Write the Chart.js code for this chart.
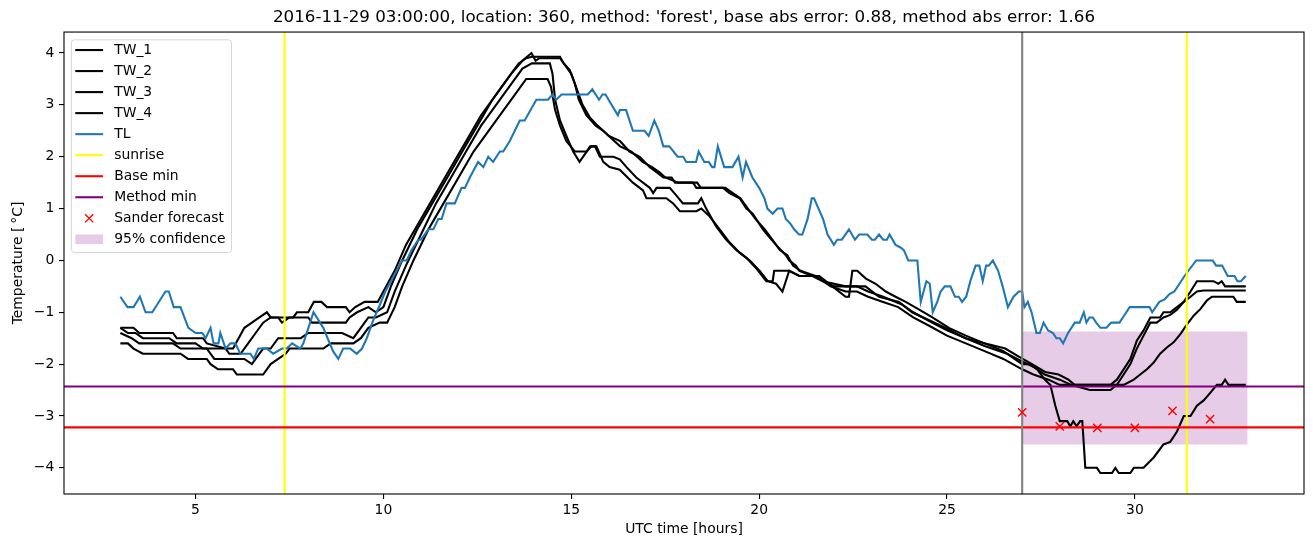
<!DOCTYPE html>
<html>
<head>
<meta charset="utf-8">
<script src="https://cdn.jsdelivr.net/npm/chart.js@4.4.0/dist/chart.umd.min.js"></script>
<style>
html, body { margin: 0; padding: 0; background: #fff; }
</style>
</head>
<body>
<canvas id="chart" width="1313" height="547"></canvas>
<script>
// Axis limits and ticks (hours, degrees C)
const hourMin = 1.5, hourMax = 34.5;
const tempMin = -4.505, tempMax = 4.405;
const xTicks = [5, 10, 15, 20, 25, 30];
const yTicks = [-4, -3, -2, -1, 0, 1, 2, 3, 4];

const titleText = "2016-11-29 03:00:00, location: 360, method: 'forest', base abs error: 0.88, method abs error: 1.66";

// Road sensor temperatures as [hour, temp] pairs
const tw1 = [[3.0,-1.3],[3.35,-1.3],[3.5,-1.4],[4.4,-1.4],[4.5,-1.5],[5.2,-1.5],[5.3,-1.6],[5.8,-1.7],[6.0,-1.7],[6.3,-1.3],
  [6.5,-1.2],[6.7,-1.1],[6.9,-1.0],[7.0,-1.1],[7.6,-1.1],[7.7,-1.0],[8.0,-1.0],[8.15,-0.8],[8.35,-0.8],[8.5,-0.9],
  [9.0,-0.9],[9.1,-1.0],[9.25,-0.9],[9.5,-0.8],[9.85,-0.8],[10.0,-0.6],[10.3,-0.2],[10.6,0.3],[11.0,0.8],[11.4,1.3],
  [11.8,1.8],[12.2,2.3],[12.6,2.8],[13.0,3.2],[13.4,3.6],[13.7,3.85],[13.94,4.0],[14.05,3.85],[14.15,3.9],[14.7,3.9],
  [14.8,3.8],[14.96,3.67],[15.1,3.4],[15.2,3.1],[15.4,2.8],[15.65,2.6],[15.85,2.5],[16.0,2.4],[16.3,2.3],[16.55,2.1],
  [16.82,2.0],[17.09,1.8],[17.27,1.7],[17.45,1.6],[17.67,1.6],[17.76,1.5],[18.24,1.5],[18.33,1.4],[19.04,1.4],[19.21,1.3],
  [19.48,1.2],[19.66,1.0],[19.83,0.9],[20.1,0.6],[20.27,0.45],[20.45,0.3],[20.71,0.1],[20.8,0.0],[20.98,-0.1],[21.07,-0.2],
  [21.42,-0.3],[21.69,-0.4],[22.3,-0.5],[22.83,-0.5],[23.19,-0.7],[23.72,-0.8],[24.07,-1.0],[24.51,-1.15],[24.96,-1.3],[25.49,-1.5],
  [26.02,-1.6],[26.55,-1.7],[26.9,-1.85],[27.26,-2.0],[27.61,-2.15],[27.97,-2.2],[28.23,-2.3],[28.4,-2.4],[29.35,-2.4],[29.52,-2.3],
  [29.7,-2.1],[29.88,-1.9],[30.05,-1.55],[30.23,-1.35],[30.41,-1.1],[30.67,-1.1],[30.76,-1.0],[30.94,-1.0],[31.12,-0.9],[31.3,-0.8],
  [31.48,-0.6],[31.65,-0.4],[32.09,-0.4],[32.22,-0.45],[32.31,-0.4],[32.4,-0.5],[32.95,-0.5]];

const tw2 = [[3.0,-1.3],[3.2,-1.4],[3.4,-1.4],[3.6,-1.5],[4.3,-1.5],[4.5,-1.6],[5.0,-1.6],[5.2,-1.7],[5.8,-1.7],[5.9,-1.8],
  [6.2,-1.8],[6.4,-1.6],[6.6,-1.4],[6.8,-1.2],[7.0,-1.1],[7.2,-1.1],[7.3,-1.2],[7.5,-1.1],[8.0,-1.1],[8.1,-1.2],
  [9.0,-1.2],[9.1,-1.1],[9.3,-1.0],[9.6,-0.9],[9.8,-1.0],[10.0,-0.9],[10.2,-0.5],[10.5,0.0],[10.9,0.6],[11.3,1.1],
  [11.7,1.6],[12.1,2.1],[12.5,2.6],[12.9,3.1],[13.3,3.5],[13.6,3.8],[13.8,3.9],[13.95,3.93],[14.7,3.93],[14.8,3.8],
  [15.0,3.6],[15.15,3.3],[15.3,3.0],[15.5,2.75],[15.7,2.6],[16.0,2.4],[16.3,2.2],[16.6,2.1],[16.9,1.9],[17.15,1.8],
  [17.35,1.7],[17.5,1.6],[17.85,1.5],[18.35,1.5],[18.45,1.4],[19.1,1.4],[19.3,1.3],[19.5,1.2],[19.7,1.0],[19.9,0.8],
  [20.15,0.6],[20.35,0.4],[20.55,0.2],[20.75,0.1],[20.9,-0.1],[21.1,-0.2],[21.5,-0.3],[21.7,-0.4],[22.0,-0.5],[22.6,-0.5],
  [22.9,-0.6],[23.3,-0.7],[23.8,-0.85],[24.1,-1.0],[24.6,-1.2],[25.0,-1.35],[25.5,-1.5],[26.0,-1.65],[26.6,-1.8],[27.0,-1.95],
  [27.3,-2.05],[27.6,-2.2],[28.0,-2.3],[28.3,-2.4],[28.8,-2.5],[29.35,-2.5],[29.52,-2.4],[29.7,-2.2],[29.88,-2.0],[30.05,-1.7],
  [30.23,-1.45],[30.41,-1.2],[30.58,-1.2],[30.76,-1.1],[30.94,-1.05],[31.12,-0.95],[31.3,-0.8],[31.48,-0.7],[31.65,-0.6],[31.83,-0.58],
  [32.95,-0.58]];

const tw3 = [[3.0,-1.4],[3.3,-1.5],[3.5,-1.6],[4.4,-1.6],[4.6,-1.7],[5.3,-1.7],[5.4,-1.8],[5.5,-1.9],[6.3,-1.9],[6.5,-2.0],
  [6.6,-1.9],[6.8,-1.7],[7.0,-1.7],[7.2,-1.5],[7.8,-1.5],[8.0,-1.4],[8.9,-1.4],[9.2,-1.5],[9.4,-1.3],[9.6,-1.1],
  [9.8,-1.1],[10.1,-1.0],[10.3,-0.6],[10.6,-0.1],[11.0,0.5],[11.4,1.1],[11.8,1.6],[12.2,2.1],[12.6,2.6],[13.0,3.0],
  [13.4,3.4],[13.7,3.7],[13.95,3.8],[14.43,3.8],[14.5,3.6],[14.57,3.1],[14.7,2.7],[14.87,2.4],[15.05,2.1],[15.22,1.9],
  [15.41,2.1],[15.5,2.2],[15.63,2.2],[15.76,2.0],[16.12,2.0],[16.29,1.95],[16.47,1.8],[16.73,1.6],[17.09,1.4],[17.18,1.3],
  [17.27,1.4],[17.62,1.4],[17.8,1.25],[17.97,1.1],[18.37,1.1],[18.46,1.2],[18.59,1.0],[18.86,0.65],[19.12,0.4],[19.39,0.2],
  [19.66,0.05],[19.92,-0.15],[20.19,-0.4],[20.36,-0.4],[20.4,-0.2],[20.8,-0.2],[21.07,-0.3],[21.6,-0.3],[21.95,-0.5],[22.3,-0.7],
  [22.39,-0.7],[22.48,-0.2],[22.61,-0.2],[22.84,-0.35],[23.1,-0.45],[23.37,-0.6],[23.63,-0.7],[23.9,-0.8],[24.26,-0.95],[24.61,-1.1],
  [25.05,-1.3],[25.5,-1.45],[26.0,-1.6],[26.5,-1.75],[27.0,-2.0],[27.2,-2.0],[27.4,-2.1],[27.6,-2.3],[27.75,-2.4],[27.88,-2.8],
  [28.0,-3.1],[28.2,-3.1],[28.28,-3.2],[28.36,-3.1],[28.45,-3.2],[28.54,-3.1],[28.6,-3.1],[28.68,-4.0],[28.99,-4.0],[29.08,-4.1],
  [29.39,-4.1],[29.48,-4.0],[29.57,-4.1],[29.88,-4.1],[29.97,-4.0],[30.23,-4.0],[30.5,-3.8],[30.76,-3.55],[30.94,-3.5],[31.12,-3.3],
  [31.3,-3.0],[31.48,-3.0],[31.65,-2.8],[31.83,-2.7],[32.01,-2.55],[32.18,-2.4],[32.31,-2.4],[32.4,-2.3],[32.49,-2.4],[32.95,-2.4]];

const tw4 = [[3.0,-1.6],[3.2,-1.6],[3.35,-1.7],[3.6,-1.8],[4.6,-1.8],[4.8,-1.9],[5.3,-1.9],[5.4,-2.0],[5.6,-2.1],[6.0,-2.1],
  [6.1,-2.2],[6.8,-2.2],[7.0,-2.0],[7.2,-1.9],[7.4,-1.8],[7.5,-1.7],[8.4,-1.7],[8.6,-1.6],[9.2,-1.6],[9.4,-1.5],
  [9.6,-1.3],[9.9,-1.2],[10.1,-1.2],[10.3,-0.9],[10.5,-0.5],[10.8,0.0],[11.2,0.6],[11.6,1.1],[12.0,1.6],[12.4,2.1],
  [12.8,2.5],[13.2,2.9],[13.5,3.2],[13.8,3.5],[14.37,3.5],[14.46,3.35],[14.57,2.9],[14.7,2.6],[14.87,2.3],[15.1,2.1],
  [15.41,2.1],[15.54,2.2],[15.67,2.2],[15.85,1.9],[16.02,1.8],[16.29,1.75],[16.64,1.5],[16.91,1.35],[17.0,1.2],[17.53,1.2],
  [17.71,1.1],[17.89,0.95],[18.33,0.95],[18.46,1.0],[18.68,0.85],[18.95,0.6],[19.21,0.35],[19.48,0.15],[19.75,0.0],[20.01,-0.2],
  [20.23,-0.4],[20.45,-0.45],[20.62,-0.6],[20.8,-0.2],[21.07,-0.3],[21.5,-0.3],[21.9,-0.5],[22.3,-0.6],[22.6,-0.6],[22.9,-0.7],
  [23.3,-0.8],[23.7,-0.9],[24.1,-1.1],[24.5,-1.25],[25.0,-1.45],[25.5,-1.6],[26.0,-1.75],[26.5,-1.9],[27.0,-2.1],[27.3,-2.2],
  [27.7,-2.3],[28.0,-2.4],[29.7,-2.4],[29.97,-2.3],[30.14,-2.2],[30.32,-2.1],[30.5,-1.97],[30.67,-1.8],[30.85,-1.68],[31.03,-1.58],
  [31.21,-1.42],[31.39,-1.23],[31.57,-1.06],[31.74,-0.94],[31.92,-0.77],[32.05,-0.7],[32.62,-0.7],[32.71,-0.8],[32.95,-0.8]];

// Air temperature
const tl = [[3.0,-0.7],[3.19,-0.9],[3.35,-0.9],[3.52,-0.7],[3.67,-1.0],[3.85,-1.0],[4.2,-0.6],[4.29,-0.6],[4.42,-0.9],[4.6,-0.9],
  [4.81,-1.3],[5.0,-1.4],[5.18,-1.4],[5.27,-1.5],[5.4,-1.3],[5.48,-1.6],[5.61,-1.6],[5.66,-1.4],[5.8,-1.7],[5.93,-1.6],
  [6.06,-1.6],[6.19,-1.8],[6.46,-1.8],[6.55,-1.9],[6.67,-1.7],[6.9,-1.7],[7.07,-1.8],[7.3,-1.7],[7.43,-1.7],[7.57,-1.6],
  [7.79,-1.7],[7.87,-1.6],[8.14,-1.0],[8.4,-1.3],[8.66,-1.75],[8.8,-1.9],[8.93,-1.7],[9.12,-1.7],[9.29,-1.8],[9.43,-1.7],
  [9.56,-1.5],[9.73,-1.15],[9.91,-0.85],[10.05,-0.6],[10.2,-0.4],[10.35,-0.2],[10.49,0.0],[10.62,0.0],[10.75,0.2],[10.93,0.4],
  [11.0,0.4],[11.2,0.6],[11.33,0.6],[11.46,0.8],[11.55,0.8],[11.68,1.1],[11.9,1.1],[12.08,1.4],[12.17,1.4],[12.3,1.6],
  [12.52,1.9],[12.66,1.8],[12.79,2.0],[12.92,1.9],[13.1,2.1],[13.19,2.1],[13.36,2.3],[13.63,2.7],[13.76,2.7],[14.07,3.1],
  [14.38,3.1],[14.5,3.2],[14.6,3.1],[14.74,3.2],[15.44,3.2],[15.56,3.3],[15.74,3.1],[15.83,3.2],[15.91,3.2],[16.24,2.8],
  [16.29,2.9],[16.46,2.9],[16.64,2.5],[16.95,2.5],[17.06,2.4],[17.21,2.7],[17.33,2.5],[17.45,2.2],[17.61,2.2],[17.83,2.0],
  [17.98,2.0],[18.06,1.9],[18.32,1.9],[18.39,2.1],[18.54,1.9],[18.66,1.9],[18.75,1.8],[18.81,1.8],[18.9,2.2],[19.07,1.8],
  [19.29,1.8],[19.45,2.0],[19.56,1.6],[19.65,1.9],[19.82,1.6],[20.0,1.4],[20.14,1.2],[20.22,1.0],[20.36,0.9],[20.49,1.0],
  [20.62,1.0],[20.71,0.8],[20.84,0.7],[20.93,0.6],[21.06,0.5],[21.15,0.5],[21.29,0.8],[21.4,1.2],[21.46,1.2],[21.58,1.0],
  [21.7,0.8],[21.82,0.5],[21.99,0.3],[22.08,0.4],[22.2,0.4],[22.39,0.6],[22.55,0.4],[22.66,0.5],[22.88,0.5],[23.0,0.4],
  [23.08,0.4],[23.19,0.5],[23.3,0.4],[23.4,0.4],[23.47,0.5],[23.63,0.3],[23.76,0.25],[23.85,0.2],[23.97,0.0],[24.21,0.0],
  [24.3,-0.8],[24.45,-0.4],[24.54,-0.45],[24.62,-1.0],[24.74,-0.8],[24.83,-0.6],[24.94,-0.5],[25.09,-0.5],[25.21,-0.7],[25.31,-0.7],
  [25.4,-0.8],[25.51,-0.7],[25.62,-0.4],[25.76,-0.1],[25.86,-0.1],[25.95,-0.4],[26.04,-0.1],[26.11,-0.1],[26.22,0.0],[26.36,-0.2],
  [26.48,-0.5],[26.62,-0.9],[26.77,-0.7],[26.91,-0.6],[27.0,-0.6],[27.06,-0.9],[27.15,-0.8],[27.25,-1.0],[27.38,-1.4],[27.47,-1.4],
  [27.57,-1.2],[27.69,-1.35],[27.82,-1.4],[27.91,-1.5],[28.0,-1.5],[28.09,-1.6],[28.22,-1.4],[28.31,-1.3],[28.4,-1.2],[28.53,-1.2],
  [28.64,-1.0],[28.71,-1.2],[28.79,-1.1],[28.88,-1.1],[28.97,-1.2],[29.08,-1.3],[29.24,-1.3],[29.37,-1.2],[29.59,-1.2],[29.68,-1.1],
  [29.86,-0.9],[30.39,-0.9],[30.46,-1.0],[30.65,-0.8],[30.79,-0.75],[30.92,-0.65],[31.05,-0.6],[31.32,-0.3],[31.63,0.0],[32.07,0.0],
  [32.16,-0.1],[32.32,-0.1],[32.47,-0.3],[32.65,-0.3],[32.73,-0.4],[32.82,-0.4],[32.95,-0.3]];

// Reference lines, forecast and confidence band
const sunriseHours = [7.37, 31.38];
const nowHour = 27;
const baseMin = -3.22;
const methodMin = -2.43;
const forecastHours = [27, 28, 29, 30, 31, 32];
const forecastTemps = [-2.93, -3.2, -3.23, -3.23, -2.9, -3.06];
const bandHours = [27, 33];
const bandUpper = -1.37;
const bandLower = -3.55;

const lineW = 2.08; // 1.5 pt at 100 dpi

const toXY = pts => pts.map(p => ({ x: p[0], y: p[1] }));

function lineSet(label, pts, color, order) {
  return {
    label: label,
    data: toXY(pts),
    showLine: true,
    borderColor: color,
    backgroundColor: color,
    borderWidth: lineW,
    pointRadius: 0,
    fill: false,
    order: order
  };
}

// vertical lines spanning the full y range, split by a gap
function vLines(hours) {
  const out = [];
  hours.forEach((h, i) => {
    if (i > 0) out.push({ x: h, y: null });
    out.push({ x: h, y: tempMin }, { x: h, y: tempMax });
  });
  return out;
}

const datasets = [
  lineSet('TW_1', tw1, '#000000', 10),
  lineSet('TW_2', tw2, '#000000', 9),
  lineSet('TW_3', tw3, '#000000', 8),
  lineSet('TW_4', tw4, '#000000', 7),
  lineSet('TL', tl, '#1f77b4', 6),
  Object.assign(lineSet('sunrise', [], '#ffff00', 5), { data: vLines(sunriseHours) }),
  Object.assign(lineSet('Base min', [], '#ff0000', 4), { data: [{ x: hourMin, y: baseMin }, { x: hourMax, y: baseMin }] }),
  Object.assign(lineSet('Method min', [], '#800080', 3), { data: [{ x: hourMin, y: methodMin }, { x: hourMax, y: methodMin }] }),
  {
    label: 'Sander forecast',
    data: forecastHours.map((h, i) => ({ x: h, y: forecastTemps[i] })),
    showLine: false,
    pointStyle: 'crossRot',
    pointRadius: 5.8,
    borderColor: '#ff0000',
    backgroundColor: '#ff0000',
    borderWidth: 1.4,
    order: 1
  },
  {
    label: '95% confidence',
    data: bandHours.map(h => ({ x: h, y: bandUpper })),
    showLine: true,
    pointRadius: 0,
    borderWidth: 0,
    borderColor: 'rgba(0,0,0,0)',
    backgroundColor: 'rgba(128,0,128,0.2)',
    fill: { value: bandLower },
    order: 20
  },
  Object.assign(lineSet('', [], '#808080', 2), { data: vLines([nowHour]) })
];

// frame, matplotlib-style legend, title centred over the axes
const axesDecor = {
  id: 'axesDecor',
  afterLayout(chart) {
    const a = chart.chartArea, t = chart.titleBlock;
    if (t) { t.left = a.left; t.right = a.right; t.width = a.right - a.left; }
  },
  afterDatasetsDraw(chart) {
    const ctx = chart.ctx, a = chart.chartArea;
    ctx.save();
    ctx.strokeStyle = '#000';
    ctx.lineWidth = 1.1;
    ctx.strokeRect(a.left, a.top, a.right - a.left, a.bottom - a.top);
    ctx.restore();
  },
  afterDraw(chart) {
    const ctx = chart.ctx, a = chart.chartArea;
    const items = chart.data.datasets.filter(d => d.label);
    const fs = 13.9, rowH = 21.03;
    ctx.save();
    ctx.font = fs + 'px "DejaVu Sans"';
    const textW = Math.max(...items.map(d => ctx.measureText(d.label).width));
    const boxX = a.left + 7.4, boxY = a.top + 7.8;
    const handleX = boxX + 3.9, handleLen = 27.8, textX = handleX + handleLen + 11.1;
    const boxW = textX - boxX + textW + 6, boxH = items.length * rowH + 2.4;
    const r = 3;
    ctx.beginPath();
    ctx.moveTo(boxX + r, boxY);
    ctx.arcTo(boxX + boxW, boxY, boxX + boxW, boxY + boxH, r);
    ctx.arcTo(boxX + boxW, boxY + boxH, boxX, boxY + boxH, r);
    ctx.arcTo(boxX, boxY + boxH, boxX, boxY, r);
    ctx.arcTo(boxX, boxY, boxX + boxW, boxY, r);
    ctx.closePath();
    ctx.fillStyle = 'rgba(255,255,255,0.8)';
    ctx.fill();
    ctx.strokeStyle = 'rgba(204,204,204,0.8)';
    ctx.lineWidth = 1;
    ctx.stroke();
    items.forEach((d, i) => {
      const cy = boxY + 10.2 + i * rowH;
      if (d.fill) {
        ctx.fillStyle = d.backgroundColor;
        ctx.fillRect(handleX, cy - 4.9, handleLen, 9.7);
      } else if (d.showLine) {
        ctx.strokeStyle = d.borderColor;
        ctx.lineWidth = d.borderWidth;
        ctx.beginPath();
        ctx.moveTo(handleX, cy);
        ctx.lineTo(handleX + handleLen, cy);
        ctx.stroke();
      } else {
        const cx = handleX + handleLen / 2, s = 4.1;
        ctx.strokeStyle = d.borderColor;
        ctx.lineWidth = d.borderWidth;
        ctx.beginPath();
        ctx.moveTo(cx - s, cy - s); ctx.lineTo(cx + s, cy + s);
        ctx.moveTo(cx - s, cy + s); ctx.lineTo(cx + s, cy - s);
        ctx.stroke();
      }
      ctx.fillStyle = '#000';
      ctx.textBaseline = 'middle';
      ctx.textAlign = 'left';
      ctx.fillText(d.label, textX, cy);
    });
    ctx.restore();
  }
};

Chart.defaults.font.family = '"DejaVu Sans", sans-serif';
Chart.defaults.color = '#000';

const tickGrid = { display: true, drawOnChartArea: false, drawTicks: true, tickLength: 5, color: '#000', lineWidth: 1.1 };
const minusSign = v => (v < 0 ? '\u2212' + Math.abs(v) : String(v));

new Chart(document.getElementById('chart'), {
  type: 'scatter',
  data: { datasets: datasets },
  plugins: [axesDecor],
  options: {
    responsive: false,
    animation: false,
    events: [],
    layout: { padding: { left: 0, right: 9, top: 0, bottom: 0 } },
    plugins: {
      legend: { display: false },
      tooltip: { enabled: false },
      title: {
        display: true,
        text: titleText,
        color: '#000',
        font: { size: 16.7, weight: 'normal' },
        padding: { top: 8, bottom: 4 }
      }
    },
    scales: {
      x: {
        type: 'linear',
        min: hourMin,
        max: hourMax,
        afterFit: s => { s.height = 53; },
        afterBuildTicks: s => { s.ticks = xTicks.map(v => ({ value: v })); },
        grid: tickGrid,
        border: { display: false },
        ticks: { font: { size: 13.9 }, color: '#000', padding: 3, maxRotation: 0, autoSkip: false, callback: minusSign },
        title: { display: true, text: 'UTC time [hours]', color: '#000', font: { size: 13.9 }, padding: { top: 0, bottom: 9.7 } }
      },
      y: {
        type: 'linear',
        min: tempMin,
        max: tempMax,
        afterFit: s => { s.width = 64; },
        afterBuildTicks: s => { s.ticks = yTicks.map(v => ({ value: v })); },
        grid: tickGrid,
        border: { display: false },
        ticks: { font: { size: 13.9 }, color: '#000', padding: 4.7, autoSkip: false, callback: minusSign },
        title: { display: true, text: 'Temperature [\u2009\u00b0C]', color: '#000', font: { size: 13.9 }, padding: { top: 9.7, bottom: 0 } }
      }
    }
  }
});
</script>
</body>
</html>
